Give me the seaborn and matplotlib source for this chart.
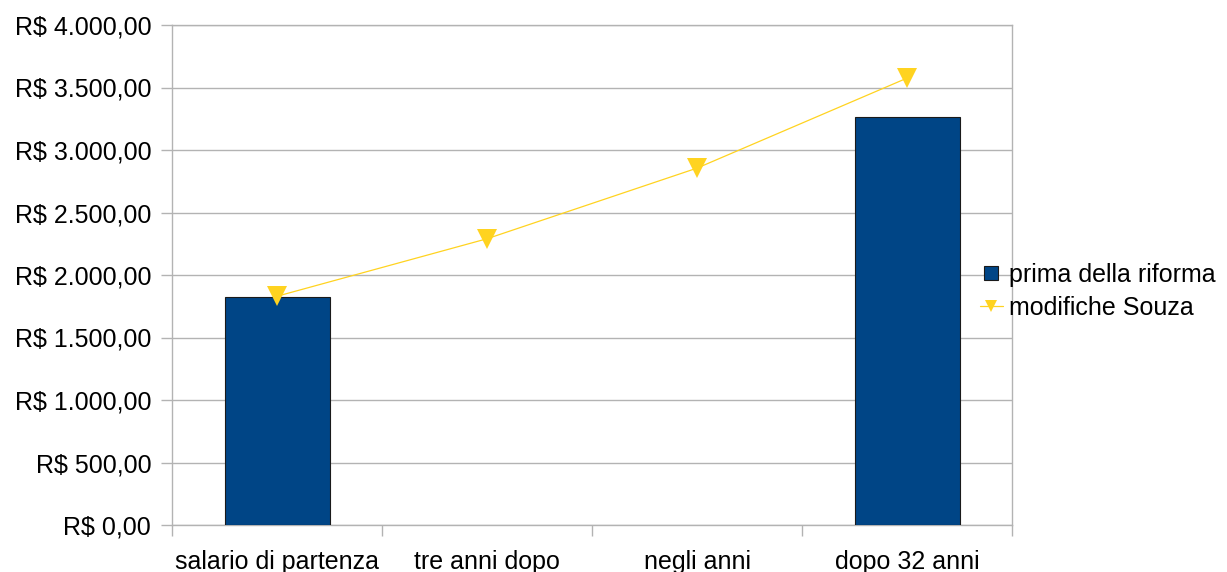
import numpy as np
import pandas as pd
import matplotlib
matplotlib.use("Agg")
import matplotlib.pyplot as plt
from matplotlib.lines import Line2D
from matplotlib.ticker import FuncFormatter, FixedLocator
import seaborn as sns

categories = ["salario di partenza", "tre anni dopo", "negli anni", "dopo 32 anni"]
bar_values = [1827, np.nan, np.nan, 3267]
line_values = [1830, 2290, 2855, 3575]
series_names = ["prima della riforma", "modifiche Souza"]

BAR_COLOR = "#004586"
LINE_COLOR = "#ffd320"
GRID = "#b3b3b3"

sns.set_theme(style="white")
plt.rcParams["font.family"] = ["Liberation Sans", "DejaVu Sans"]
plt.rcParams["text.color"] = "black"
plt.rcParams["xtick.labelcolor"] = "black"
plt.rcParams["ytick.labelcolor"] = "black"

fig = plt.figure(figsize=(12.27, 5.72), dpi=100)
ax = fig.add_axes([172 / 1227, 47 / 572, 840 / 1227, 500 / 572])

df = pd.DataFrame({"cat": categories, "bar": bar_values, "line": line_values})

sns.barplot(data=df.dropna(subset=["bar"]), x="cat", y="bar", order=categories,
            color=BAR_COLOR, saturation=1, width=0.5, edgecolor="#1a1a1a",
            linewidth=0.8, ax=ax, zorder=3)

pos = np.arange(len(categories))
sns.lineplot(x=pos, y=df["line"].values, ax=ax, color=LINE_COLOR, linewidth=0.9,
             marker="v", markersize=15, markeredgewidth=0, markeredgecolor=LINE_COLOR,
             zorder=4, legend=False)

ax.set_xlim(-0.5, 3.5)
ax.set_ylim(0, 4000)
ax.set_yticks(np.arange(0, 4001, 500))


def brl(v, _):
    s = f"{v:,.2f}".replace(",", "X").replace(".", ",").replace("X", ".")
    return f"R$ {s}"


ax.yaxis.set_major_formatter(FuncFormatter(brl))
ax.grid(axis="y", color=GRID, linewidth=1)
ax.set_axisbelow(True)
for sp in ax.spines.values():
    sp.set_color(GRID)
    sp.set_linewidth(1)

ax.set_xticks(pos)
ax.set_xticklabels(categories)
ax.xaxis.set_minor_locator(FixedLocator(np.arange(-0.5, 3.6, 1)))
ax.tick_params(axis="x", which="major", length=0, pad=18, labelsize=18,
               labelcolor="black")
ax.tick_params(axis="x", which="minor", length=8, color=GRID, width=1, bottom=True)
ax.tick_params(axis="y", which="major", length=8, color=GRID, width=1, pad=7,
               labelsize=18, left=True, labelcolor="black")
ax.set_xlabel("")
ax.set_ylabel("")

handles = [
    Line2D([], [], linestyle="none", marker="s", markersize=10.5,
           markerfacecolor=BAR_COLOR, markeredgecolor="#1a1a1a", markeredgewidth=0.8),
    Line2D([], [], color=LINE_COLOR, linewidth=0.9, marker="v", markersize=9,
           markeredgewidth=0),
]
leg = fig.legend(handles, series_names, loc="center left",
                 bbox_to_anchor=(980 / 1227, 1 - 291.5 / 572), frameon=False,
                 fontsize=18, handlelength=0.9, handletextpad=0.25, borderpad=0,
                 borderaxespad=0, labelspacing=0.35)
for t in leg.get_texts():
    t.set_color("black")

fig.savefig("out.png", dpi=100)
